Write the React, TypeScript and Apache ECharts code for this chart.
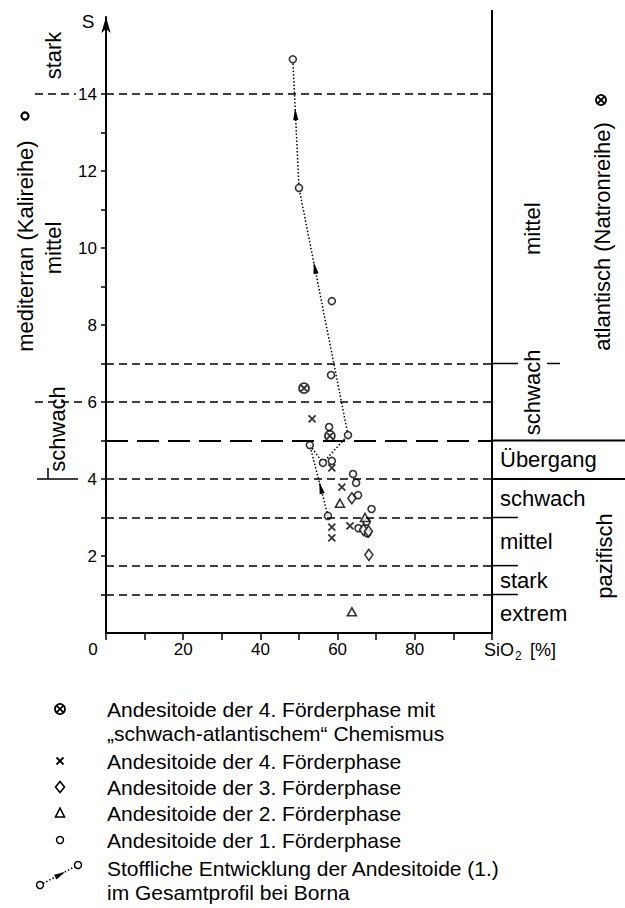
import React, { useEffect, useRef } from "react";
import * as echarts from "echarts";

const FONT = "'Liberation Sans', Arial, Helvetica, sans-serif";

// ---- Data: SiO2 [%] vs. S ----
const phase1Circles = [
  [48.4, 14.9], [50.0, 11.56], [58.5, 8.62], [58.3, 6.7], [57.8, 5.35], [62.7, 5.14],
  [52.8, 4.88], [56.2, 4.42], [58.5, 4.47], [64.0, 4.13], [64.8, 3.9], [65.3, 3.58],
  [68.8, 3.22], [57.5, 3.04], [67.5, 2.89], [65.4, 2.72], [67.7, 2.59],
];
const phase2Triangles = [[60.6, 3.37], [67.1, 3.0], [63.7, 0.55]];
const phase3Diamonds = [[63.7, 3.5], [66.7, 2.68], [68.0, 2.64], [68.1, 2.03]];
const phase4Crosses = [[53.4, 5.56], [58.5, 4.29], [61.1, 3.79], [63.2, 2.78], [58.5, 2.75], [58.5, 2.47]];
const phase4Atlantic = [[51.3, 6.36], [58.0, 5.12]];
const developmentPath = [[57.5, 3.04], [52.8, 4.88], [56.2, 4.42], [62.7, 5.14], [50.0, 11.56], [48.4, 14.9]];
// [segment start index, fraction along segment]
const pathArrows = [[0, 0.48], [3, 0.7], [4, 0.62]];

const shortDashLevels = [14, 7, 6, 4, 3, 1.75, 1];
const longDashLevels = [5];
const xTickValues = [0, 10, 20, 30, 40, 50, 60, 70, 80, 90, 100];
const xLabelValues = [0, 20, 40, 60, 80];
const yTickValues = [1, 2, 3, 4, 5, 6, 7, 8, 9, 10, 11, 12, 13, 14];
const yLabelValues = [2, 4, 6, 8, 10, 12, 14];

const pacificClasses = ["Übergang", "schwach", "mittel", "stark", "extrem"];
const pacificCenters = [4.5, 3.5, 2.375, 1.375, 0.5];

const legendRows = [
  { sym: "otimes", lines: ["Andesitoide der 4. Förderphase mit", "„schwach-atlantischem“ Chemismus"] },
  { sym: "cross", lines: ["Andesitoide der 4. Förderphase"] },
  { sym: "diamond", lines: ["Andesitoide der 3. Förderphase"] },
  { sym: "triangle", lines: ["Andesitoide der 2. Förderphase"] },
  { sym: "circle", lines: ["Andesitoide der 1. Förderphase"] },
  { sym: "path", lines: ["Stoffliche Entwicklung der Andesitoide (1.)", "im Gesamtprofil bei Borna"] },
];
const legendRowY = [709, 761, 787, 813, 840, 868];

const CROSS_PATH = "path://M0,0L10,10M10,0L0,10";
const OTIMES_PATH = "path://M10,5A5,5,0,1,1,0,5A5,5,0,1,1,10,5ZM1.6,1.6L8.4,8.4M8.4,1.6L1.6,8.4";

export default function App() {
  const ref = useRef<HTMLDivElement>(null);
  useEffect(() => {
    document.body.style.margin = "0";
    const chart = echarts.init(ref.current!, undefined, { renderer: "svg" });
    const marker = { color: "#fff", borderColor: "#000", borderWidth: 1.6 };
    const axisText = { color: "#000", fontSize: 17, fontFamily: FONT };
    chart.setOption({
      animation: false,
      textStyle: { fontFamily: FONT },
      grid: { left: 106, top: 17, width: 386, height: 616 },
      xAxis: {
        type: "value", min: 0, max: 100, interval: 10,
        axisLine: { lineStyle: { color: "#000", width: 2 } },
        axisTick: { show: true, length: 7, customValues: xTickValues, lineStyle: { color: "#000", width: 1.5 } },
        axisLabel: {
          ...axisText, margin: 8, customValues: xLabelValues,
          formatter: (v: number) => (v === 0 ? "{z|0}" : String(v)),
          rich: { z: { ...axisText, padding: [0, 26, 0, 0] } },
        },
        splitLine: { show: false },
      },
      yAxis: {
        type: "value", min: 0, max: 16, interval: 1,
        axisLine: { symbol: ["none", "arrow"], symbolSize: [7, 16], lineStyle: { color: "#000", width: 2 } },
        axisTick: { show: true, length: 5, customValues: yTickValues, lineStyle: { color: "#000", width: 1.5 } },
        axisLabel: { ...axisText, margin: 9, customValues: yLabelValues },
        splitLine: { show: false },
      },
      series: [
        {
          type: "line", name: "Entwicklung", data: developmentPath, symbol: "none", z: 2,
          lineStyle: { color: "#000", width: 1.5, type: [1.5, 2] },
          markLine: {
            silent: true, symbol: ["none", "none"], label: { show: false },
            lineStyle: { color: "#000", width: 1.5, type: [8, 5] },
            data: [
              ...shortDashLevels.map((v) => ({ yAxis: v })),
              ...longDashLevels.map((v) => ({ yAxis: v, lineStyle: { color: "#000", width: 2, type: [22, 9] } })),
            ],
          },
        },
        {
          type: "custom", name: "Pfeile", data: pathArrows, z: 3,
          renderItem: (params: any, api: any) => {
            const i = api.value(0);
            const t = api.value(1);
            const a = api.coord(developmentPath[i]);
            const b = api.coord(developmentPath[i + 1]);
            const px = a[0] + (b[0] - a[0]) * t;
            const py = a[1] + (b[1] - a[1]) * t;
            const dx = b[0] - a[0], dy = b[1] - a[1];
            const L = Math.hypot(dx, dy);
            const ux = dx / L, uy = dy / L;
            const len = 12, w = 2.6;
            const bx = px - ux * len, by = py - uy * len;
            return {
              type: "polygon",
              shape: { points: [[px, py], [bx - uy * w, by + ux * w], [bx + uy * w, by - ux * w]] },
              style: { fill: "#000" },
            };
          },
        },
        { type: "scatter", name: "1. Förderphase", data: phase1Circles, symbol: "circle", symbolSize: 7, itemStyle: marker, z: 4 },
        { type: "scatter", name: "2. Förderphase", data: phase2Triangles, symbol: "triangle", symbolSize: [9, 8], itemStyle: marker, z: 4 },
        { type: "scatter", name: "3. Förderphase", data: phase3Diamonds, symbol: "diamond", symbolSize: [8, 11], itemStyle: marker, z: 4 },
        { type: "scatter", name: "4. Förderphase", data: phase4Crosses, symbol: CROSS_PATH, symbolSize: 7, itemStyle: { color: "none", borderColor: "#000", borderWidth: 1.8 }, z: 4 },
        { type: "scatter", name: "4. Förderphase (schwach-atlantisch)", data: phase4Atlantic, symbol: OTIMES_PATH, symbolSize: 10, itemStyle: { color: "#fff", borderColor: "#000", borderWidth: 1.8 }, z: 4 },
      ],
    });

    const X = (v: number) => chart.convertToPixel({ xAxisIndex: 0 }, v) as number;
    const Y = (v: number) => chart.convertToPixel({ yAxisIndex: 0 }, v) as number;
    const g: any[] = [];
    const line = (x1: number, y1: number, x2: number, y2: number, w = 1.5, dash?: number[]) =>
      g.push({ type: "line", shape: { x1, y1, x2, y2 }, style: { stroke: "#000", lineWidth: w, lineDash: dash } });
    const text = (t: string, x: number, y: number, size: number, align = "left", rot = 0) =>
      g.push({
        type: "text", x, y, rotation: rot,
        style: { text: t, fill: "#000", fontSize: size, fontFamily: FONT, align, verticalAlign: "middle", textAlign: align, textVerticalAlign: "middle" },
      });
    const VERT = Math.PI / 2;
    const xr = X(100);

    // right frame
    line(xr, Y(16) - 7, xr, Y(0), 2);
    line(xr, Y(5), 625, Y(5), 2);
    line(xr, Y(4), 625, Y(4), 2);
    [7, 3, 1.75, 1].forEach((v) => line(xr, Y(v), xr + 26, Y(v), 1.5));
    line(xr + 55, Y(7), xr + 68, Y(7), 1.5);
    // left extensions
    line(35, Y(14), 76, Y(14), 1.5, [8, 5]);
    line(35, Y(6), 84, Y(6), 1.5, [8, 5]);
    line(37, Y(4), 78, Y(4), 1.5);
    line(48, Y(4) - 11, 48, Y(4), 1.5);

    // axis titles
    text("S", 88, 21, 19, "center");
    text("SiO", 484, 650, 18, "left");
    text("2", 515, 656, 12, "left");
    text("[%]", 530, 650, 18, "left");

    // left annotations
    text("stark", 53, Y(15), 22, "center", VERT);
    text("mittel", 53, Y(10), 22, "center", VERT);
    text("schwach", 57, Y(5.3), 22, "center", VERT);
    text("mediterran (Kalireihe)", 25, Y(10.05), 22, "center", VERT);
    g.push({ type: "circle", shape: { cx: 25, cy: 116, r: 3.5 }, style: { fill: "#fff", stroke: "#000", lineWidth: 2.2 } });

    // right annotations
    pacificClasses.forEach((t, i) => text(t, 500, Y(pacificCenters[i]), 22, "left"));
    text("pazifisch", 604, Y(2.0), 22, "center", VERT);
    text("mittel", 532, Y(10.5), 22, "center", VERT);
    text("schwach", 532, Y(6.25), 22, "center", VERT);
    text("atlantisch (Natronreihe)", 602, Y(10.3), 22, "center", VERT);
    g.push({
      type: "group", x: 601, y: 100,
      children: [
        { type: "circle", shape: { cx: 0, cy: 0, r: 5 }, style: { fill: "#fff", stroke: "#000", lineWidth: 1.8 } },
        { type: "line", shape: { x1: -3.4, y1: -3.4, x2: 3.4, y2: 3.4 }, style: { stroke: "#000", lineWidth: 1.8 } },
        { type: "line", shape: { x1: 3.4, y1: -3.4, x2: -3.4, y2: 3.4 }, style: { stroke: "#000", lineWidth: 1.8 } },
      ],
    });

    // legend
    legendRows.forEach((row, i) => {
      const y = legendRowY[i];
      row.lines.forEach((t, k) => text(t, 107, y + k * 24, 21, "left"));
      const sx = 60;
      if (row.sym === "otimes") {
        g.push({
          type: "group", x: sx, y,
          children: [
            { type: "circle", shape: { cx: 0, cy: 0, r: 5 }, style: { fill: "#fff", stroke: "#000", lineWidth: 1.8 } },
            { type: "line", shape: { x1: -3.4, y1: -3.4, x2: 3.4, y2: 3.4 }, style: { stroke: "#000", lineWidth: 1.8 } },
            { type: "line", shape: { x1: 3.4, y1: -3.4, x2: -3.4, y2: 3.4 }, style: { stroke: "#000", lineWidth: 1.8 } },
          ],
        });
      } else if (row.sym === "cross") {
        line(sx - 3.5, y - 3.5, sx + 3.5, y + 3.5, 1.8);
        line(sx + 3.5, y - 3.5, sx - 3.5, y + 3.5, 1.8);
      } else if (row.sym === "diamond") {
        g.push({ type: "polygon", shape: { points: [[sx, y - 5.5], [sx + 4.5, y], [sx, y + 5.5], [sx - 4.5, y]] }, style: { fill: "#fff", stroke: "#000", lineWidth: 1.6 } });
      } else if (row.sym === "triangle") {
        g.push({ type: "polygon", shape: { points: [[sx, y - 5], [sx + 4.5, y + 4], [sx - 4.5, y + 4]] }, style: { fill: "#fff", stroke: "#000", lineWidth: 1.6 } });
      } else if (row.sym === "circle") {
        g.push({ type: "circle", shape: { cx: sx, cy: y, r: 3.5 }, style: { fill: "#fff", stroke: "#000", lineWidth: 1.5 } });
      } else {
        const x1 = 40, y1 = y + 17, x2 = 78, y2 = y - 3;
        line(x1, y1, x2, y2, 1.5, [1.5, 2]);
        const mx = (x1 + x2) / 2 + 6, my = (y1 + y2) / 2 - 3;
        const dx = x2 - x1, dy = y2 - y1, L = Math.hypot(dx, dy), ux = dx / L, uy = dy / L;
        const bx = mx - ux * 11, by = my - uy * 11;
        g.push({ type: "polygon", shape: { points: [[mx, my], [bx - uy * 2.6, by + ux * 2.6], [bx + uy * 2.6, by - ux * 2.6]] }, style: { fill: "#000" } });
        g.push({ type: "circle", shape: { cx: x1, cy: y1, r: 3.5 }, style: { fill: "#fff", stroke: "#000", lineWidth: 1.5 } });
        g.push({ type: "circle", shape: { cx: x2, cy: y2, r: 3.5 }, style: { fill: "#fff", stroke: "#000", lineWidth: 1.5 } });
      }
    });

    chart.setOption({ graphic: g });
    return () => chart.dispose();
  }, []);
  return <div ref={ref} style={{ position: "absolute", left: 0, top: 0, width: 625, height: 908 }} />;
}
